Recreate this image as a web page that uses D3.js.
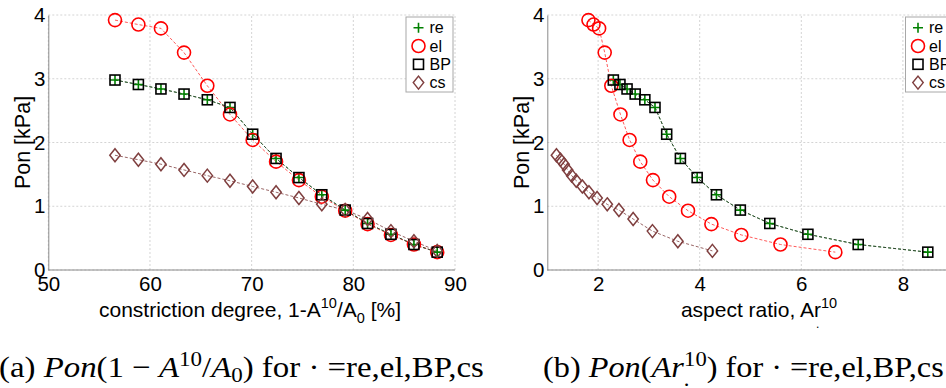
<!DOCTYPE html>
<html><head><meta charset="utf-8">
<script src="https://cdn.jsdelivr.net/npm/d3@7"></script>
<style>
html,body{margin:0;padding:0;background:#fff;}
svg{display:block;}
text{font-family:"Liberation Sans",Arial,sans-serif;}
.cap{font-family:"Liberation Serif","Times New Roman",serif;}
</style></head>
<body>
<svg id="c" width="946" height="388"></svg>
<script>
// ---- data ----
const constriction = [56.56, 58.86, 61.08, 63.35, 65.64, 67.87, 70.10, 72.40, 74.65, 76.90, 79.20, 81.40, 83.70, 85.96, 88.25];
const ponRe = [2.98, 2.91, 2.84, 2.76, 2.67, 2.55, 2.13, 1.75, 1.45, 1.18, 0.94, 0.73, 0.56, 0.40, 0.28];
const ponEl = [3.92, 3.85, 3.79, 3.41, 2.89, 2.44, 2.04, 1.70, 1.41, 1.15, 0.93, 0.72, 0.55, 0.40, 0.28];
const ponBP = [2.98, 2.91, 2.84, 2.76, 2.67, 2.55, 2.13, 1.75, 1.45, 1.18, 0.94, 0.73, 0.56, 0.40, 0.28];
const ponCs = [1.80, 1.73, 1.66, 1.57, 1.48, 1.40, 1.31, 1.22, 1.13, 1.03, 0.94, 0.80, 0.61, 0.45, 0.30];
const arRe = [2.30, 2.43, 2.57, 2.73, 2.92, 3.12, 3.35, 3.62, 3.95, 4.33, 4.80, 5.38, 6.13, 7.12, 8.49];
const arEl = [1.81, 1.91, 2.02, 2.13, 2.26, 2.44, 2.62, 2.83, 3.08, 3.40, 3.77, 4.23, 4.82, 5.59, 6.67];
const arBP = [2.30, 2.43, 2.57, 2.73, 2.92, 3.12, 3.35, 3.62, 3.95, 4.33, 4.80, 5.38, 6.13, 7.12, 8.49];
const arCs = [1.18, 1.26, 1.33, 1.40, 1.48, 1.57, 1.69, 1.82, 1.98, 2.18, 2.41, 2.69, 3.07, 3.57, 4.25];
const seriesNames = ["re", "el", "BP", "cs"];
const xTicksA = [50, 60, 70, 80, 90];
const xTicksB = [2, 4, 6, 8];
const yTicks = [0, 1, 2, 3, 4];

const colors = {re:"#008000", el:"#ff0000", BP:"#000000", cs:"#7f3f3f"};
const svg = d3.select("#c");

function marker(g, type, x, y){
  const c = colors[type];
  if(type==="re"){
    g.append("path").attr("d",`M${x-5},${y}H${x+5}M${x},${y-5}V${y+5}`).attr("stroke",c).attr("stroke-width",1.6).attr("fill","none");
  } else if(type==="el"){
    g.append("circle").attr("cx",x).attr("cy",y).attr("r",6.5).attr("stroke",c).attr("stroke-width",1.6).attr("fill","none");
  } else if(type==="BP"){
    g.append("rect").attr("x",x-5).attr("y",y-5).attr("width",10).attr("height",10).attr("stroke",c).attr("stroke-width",1.6).attr("fill","none");
  } else {
    g.append("path").attr("d",`M${x},${y-6.5}L${x+5.2},${y}L${x},${y+6.5}L${x-5.2},${y}Z`).attr("stroke",c).attr("stroke-width",1.5).attr("fill","none");
  }
}

function panel(opt){
  const g = svg.append("g");
  const x = d3.scaleLinear().domain(opt.xdom).range(opt.xr);
  const y = d3.scaleLinear().domain([0,4]).range([270,15]);
  const right = Math.min(x.range()[1], 946);
  opt.xticks.forEach(t=>{
    g.append("line").attr("x1",x(t)).attr("x2",x(t)).attr("y1",y(0)).attr("y2",y(4))
      .attr("stroke","#d4d4d4").attr("stroke-width",1).attr("stroke-dasharray","2,2");
  });
  yTicks.forEach(t=>{
    g.append("line").attr("x1",x.range()[0]).attr("x2",right).attr("y1",y(t)).attr("y2",y(t))
      .attr("stroke","#d4d4d4").attr("stroke-width",1).attr("stroke-dasharray","2,2");
  });
  const ax = g.append("g").attr("transform",`translate(0,${y(0)})`)
    .call(d3.axisBottom(x).tickValues(opt.xticks).tickSize(0).tickPadding(6).tickFormat(d3.format("d")));
  ax.select(".domain").attr("stroke","#8a8a8a").attr("d",`M${x.range()[0]},0H${right}`);
  ax.selectAll("text").attr("font-size",20.5).attr("fill","#000").attr("font-family","Liberation Sans, Arial, sans-serif");
  const ay = g.append("g").attr("transform",`translate(${x.range()[0]},0)`)
    .call(d3.axisLeft(y).tickValues(yTicks).tickSize(0).tickPadding(3).tickFormat(d3.format("d")));
  ay.select(".domain").attr("stroke","#8a8a8a");
  ay.selectAll("text").attr("font-size",20.5).attr("fill","#000").attr("font-family","Liberation Sans, Arial, sans-serif");

  const sets = opt.sets;
  const lineColor = {re:"#008000", el:"#ff3030", BP:"#333", cs:"#7f3f3f"};
  seriesNames.forEach(name=>{
    const xs = sets[name][0], ys = sets[name][1];
    const pts = xs.map((v,i)=>[x(v), y(ys[i])]);
    g.append("path").attr("d", d3.line()(pts)).attr("fill","none")
      .attr("stroke",lineColor[name]).attr("stroke-width",0.8).attr("stroke-dasharray","3,2");
  });
  seriesNames.forEach(name=>{
    const xs = sets[name][0], ys = sets[name][1];
    const mg = g.append("g");
    xs.forEach((v,i)=>marker(mg, name, x(v), y(ys[i])));
  });

  const lg = g.append("g");
  lg.append("rect").attr("x",opt.legX).attr("y",17).attr("width",47).attr("height",75)
    .attr("fill","#fff").attr("stroke","#a8a8a8").attr("stroke-width",1);
  seriesNames.forEach((name,i)=>{
    const cy = 27.7 + i*18.3;
    marker(lg, name, opt.legX+12.5, cy);
    lg.append("text").attr("x",opt.legX+23.5).attr("y",cy+5.5).attr("font-size",16).text(name);
  });

  g.append("text").attr("transform",`translate(${opt.ylabX},142.5) rotate(-90)`)
    .attr("text-anchor","middle").attr("font-size",21.5).text("Pon [kPa]");
  return {g,x,y};
}

panel({xdom:[50,90], xr:[48.3,455], xticks:xTicksA, legX:406, ylabX:29.5,
  sets:{re:[constriction,ponRe], el:[constriction,ponEl], BP:[constriction,ponBP], cs:[constriction,ponCs]}});
panel({xdom:[1,9], xr:[547.3,953.7], xticks:xTicksB, legX:905.5, ylabX:528.5,
  sets:{re:[arRe,ponRe], el:[arEl,ponEl], BP:[arBP,ponBP], cs:[arCs,ponCs]}});

// x labels
const xlA = svg.append("text").attr("x",250).attr("y",317).attr("text-anchor","middle").attr("font-size",21);
xlA.append("tspan").text("constriction degree, 1-A");
xlA.append("tspan").attr("font-size",14.5).attr("dy",-9).text("10");
xlA.append("tspan").attr("dy",9).text("/A");
xlA.append("tspan").attr("font-size",14.5).attr("dy",6).text("0");
xlA.append("tspan").attr("dy",-6).text(" [%]");

const xlB = svg.append("text").attr("x",759).attr("y",317).attr("text-anchor","middle").attr("font-size",21);
xlB.append("tspan").text("aspect ratio, Ar");
xlB.append("tspan").attr("font-size",14.5).attr("dy",-9).text("10");
svg.append("text").attr("x",816).attr("y",328).attr("font-size",12).text(".");

// captions
function fitX(sel, x0, x1){
  const bb = sel.node().getBBox();
  const s = (x1 - x0) / bb.width;
  sel.attr("transform", `translate(${x0},0) scale(${s},1) translate(${-bb.x},0)`);
}
const cA = svg.append("text").attr("class","cap").attr("x",0).attr("y",377).attr("font-size",30);
cA.append("tspan").text("(a) ");
cA.append("tspan").attr("font-style","italic").text("Pon");
cA.append("tspan").text("(1 \u2212 ");
cA.append("tspan").attr("font-style","italic").text("A");
cA.append("tspan").attr("font-size",21).attr("dy",-11).text("10");
cA.append("tspan").attr("dy",11).text("/");
cA.append("tspan").attr("font-style","italic").text("A");
cA.append("tspan").attr("font-size",21).attr("dy",5).text("0");
cA.append("tspan").attr("dy",-5).text(") for \u00B7 =re,el,BP,cs");
fitX(cA, -1, 484);

const cB = svg.append("text").attr("class","cap").attr("x",0).attr("y",377).attr("font-size",30);
cB.append("tspan").text("(b) ");
cB.append("tspan").attr("font-style","italic").text("Pon");
cB.append("tspan").text("(");
cB.append("tspan").attr("font-style","italic").text("Ar");
cB.append("tspan").attr("font-size",21).attr("dy",9).text(".");
cB.append("tspan").attr("font-size",21).attr("dx",-5).attr("dy",-20).text("10");
cB.append("tspan").attr("dy",11).text(") for \u00B7 =re,el,BP,cs");
fitX(cB, 543, 944);
</script>
</body></html>
